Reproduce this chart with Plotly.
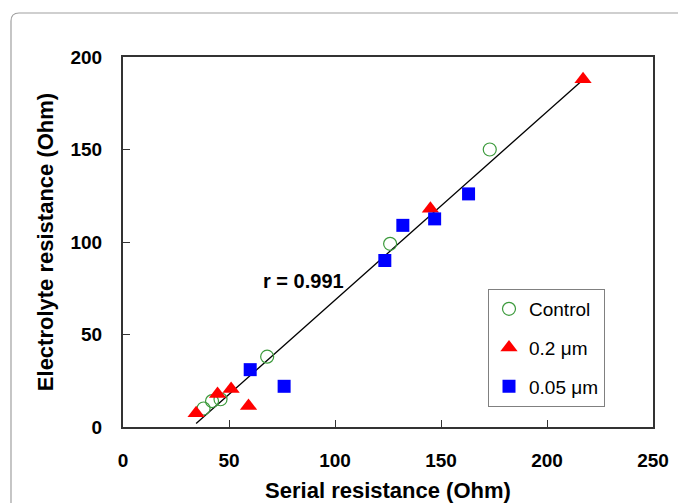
import numpy as np
import plotly.graph_objects as go

# Serial vs electrolyte resistance (Ohm) for each membrane group
control_x = [38, 42, 46, 68, 126, 173]
control_y = [10, 14, 15, 38, 99, 150]

pore02_x = [34.5, 44.6, 51, 59.2, 145, 217]
pore02_y = [7.5, 17.8, 20.5, 11.4, 118, 188]

pore005_x = [60, 76, 123.5, 132, 147, 163]
pore005_y = [31, 22, 90, 109, 112.5, 126]

r_label = "r = 0.991"

x_ticks = [0, 50, 100, 150, 200, 250]
y_ticks = [0, 50, 100, 150, 200]

# Linear fit over all groups together
all_x = np.array(control_x + pore02_x + pore005_x, dtype=float)
all_y = np.array(control_y + pore02_y + pore005_y, dtype=float)
slope, intercept = np.polyfit(all_x, all_y, 1)
fit_x = np.array([all_x.min(), all_x.max()])
fit_y = slope * fit_x + intercept

FONT = "Liberation Sans, Arial, sans-serif"

fig = go.Figure()

fig.add_trace(go.Scatter(
    x=fit_x, y=fit_y, mode="lines",
    line=dict(color="black", width=1.3),
    showlegend=False, hoverinfo="skip",
))

fig.add_trace(go.Scatter(
    x=control_x, y=control_y, mode="markers", name="Control",
    legendgroup="a",
    marker=dict(symbol="circle-open", size=13, color="#3c9a3c",
                line=dict(width=1.2, color="#3c9a3c")),
))
fig.add_trace(go.Scatter(
    x=pore02_x, y=pore02_y, mode="markers", name="0.2 μm",
    legendgroup="b",
    marker=dict(symbol="triangle-up", size=15, color="#ff0000"),
))
fig.add_trace(go.Scatter(
    x=pore005_x, y=pore005_y, mode="markers", name="0.05 μm",
    legendgroup="c",
    marker=dict(symbol="square", size=13, color="#0000ff"),
))

fig.add_annotation(
    x=65, y=79, xref="x", yref="y", text=f"<b>{r_label}</b>",
    showarrow=False, xanchor="left", yanchor="middle",
    font=dict(family=FONT, size=20, color="black"),
)

axis_common = dict(
    showgrid=False, zeroline=False,
    showline=True, mirror=True, linecolor="#333333", linewidth=2,
    ticks="inside", ticklen=7, tickcolor="#333333", tickwidth=1,
    tickfont=dict(family=FONT, size=19, color="black", weight="bold"),
)

fig.update_xaxes(
    range=[0, 250], tickvals=x_ticks,
    ticklabelstandoff=15,
    title=dict(text="<b>Serial resistance (Ohm)</b>", standoff=17,
               font=dict(family=FONT, size=22, color="black")),
    **axis_common,
)
fig.update_yaxes(
    range=[0, 200], tickvals=y_ticks,
    ticklabelstandoff=15,
    title=dict(text="<b>Electrolyte resistance (Ohm)</b>", standoff=11,
               font=dict(family=FONT, size=22, color="black")),
    **axis_common,
)

# Rounded outer frame around the figure
px_w, px_h = 530.0, 370.0
def fx(p):
    return (p - 123) / px_w
def fy(p):
    return (427 - p) / px_h
rr = 8
frame_path = (
    f"M {fx(11)} {fy(540)} L {fx(11)} {fy(13 + rr)} "
    f"Q {fx(11)} {fy(13)} {fx(11 + rr)} {fy(13)} "
    f"L {fx(700)} {fy(13)}"
)
fig.add_shape(type="path", xref="paper", yref="paper", path=frame_path,
              line=dict(color="#a0a0a0", width=1.2), layer="below")

fig.update_layout(
    width=678, height=503,
    margin=dict(l=123, r=25, t=57, b=76, autoexpand=False),
    paper_bgcolor="white", plot_bgcolor="white",
    font=dict(family=FONT, color="black"),
    legend=dict(
        x=fx(488), y=fy(289), xanchor="left", yanchor="top",
        bordercolor="#808080", borderwidth=1, bgcolor="white",
        font=dict(family=FONT, size=19, color="black"),
        tracegroupgap=11, itemwidth=30,
    ),
)

fig.write_html("out.html")
